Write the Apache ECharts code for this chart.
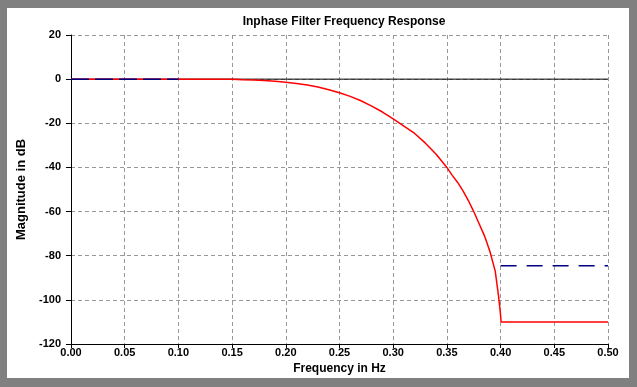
<!DOCTYPE html>
<html>
<head>
<meta charset="utf-8">
<script src="https://cdn.jsdelivr.net/npm/echarts@6/dist/echarts.min.js"></script>
<style>
html,body{margin:0;padding:0;background:#808080;}
#chart{width:637px;height:387px;}
</style>
</head>
<body>
<div id="chart"></div>
<script>
// Frequency response (Hz, dB)
var freq = [0, 0.05, 0.10, 0.15, 0.16, 0.17, 0.18, 0.19, 0.20, 0.21, 0.22, 0.23, 0.24, 0.25, 0.26, 0.27, 0.28, 0.29, 0.30, 0.31, 0.32, 0.33, 0.34, 0.35, 0.355, 0.36, 0.365, 0.37, 0.375, 0.38, 0.385, 0.39, 0.395, 0.398, 0.3995, 0.4005, 0.45, 0.50];
var magnitude = [0, 0, 0, 0, -0.3, -0.4, -0.6, -1.0, -1.4, -2.0, -2.7, -3.6, -4.8, -6.2, -7.8, -9.8, -12.2, -14.9, -18, -21.3, -24.6, -29, -34, -40, -43.6, -46.8, -50.6, -55, -60, -65.5, -71, -78, -87, -98, -104.5, -110, -110, -110];
// Passband spec (navy dashed)
var passFreq = [0, 0.10];
var passMag = [0, 0];
// Stopband spec (navy dashed)
var stopFreq = [0.40, 0.50];
var stopMag = [-84.5, -84.5];
// Zero reference line
var zeroFreq = [0, 0.50];
var zeroMag = [0, 0];
// Axis ticks
var xMin = 0, xMax = 0.5, xStep = 0.05;
var yMin = -120, yMax = 20, yStep = 20;

function pairs(a, b) { return a.map(function (v, i) { return [v, b[i]]; }); }

var font = 'Liberation Sans, Arial, sans-serif';
var chart = echarts.init(document.getElementById('chart'), null, {renderer: 'canvas'});
chart.setOption({
  backgroundColor: '#808080',
  animation: false,
  graphic: [{
    type: 'rect', z: -10, silent: true,
    shape: {x: 7, y: 8, width: 622, height: 370},
    style: {fill: '#ffffff'}
  }],
  title: {
    text: 'Inphase Filter Frequency Response',
    left: 339, top: 11, textAlign: 'center',
    textStyle: {fontFamily: font, fontSize: 12, fontWeight: 'bold', color: '#000'}
  },
  grid: {left: 71, right: 29, top: 35, bottom: 43, containLabel: false},
  xAxis: {
    type: 'value', min: xMin, max: xMax, interval: xStep,
    name: 'Frequency in Hz', nameLocation: 'middle', nameGap: 19,
    nameTextStyle: {fontFamily: font, fontSize: 12, fontWeight: 'bold', color: '#000'},
    axisLine: {onZero: false, lineStyle: {color: '#000', width: 1}},
    axisTick: {show: true, length: 4, lineStyle: {color: '#000'}},
    axisLabel: {fontFamily: font, fontSize: 11, fontWeight: 'bold', color: '#000', margin: 3,
      formatter: function (v) { return v.toFixed(2); }},
    splitLine: {show: true, lineStyle: {color: '#999', type: [4, 3], width: 1}}
  },
  yAxis: {
    type: 'value', min: yMin, max: yMax, interval: yStep,
    name: 'Magnitude in dB', nameLocation: 'middle', nameGap: 43,
    nameTextStyle: {fontFamily: font, fontSize: 13, fontWeight: 'bold', color: '#000'},
    axisLine: {show: true, onZero: false, lineStyle: {color: '#000', width: 1}},
    axisTick: {show: true, length: 5, lineStyle: {color: '#000'}},
    axisLabel: {fontFamily: font, fontSize: 11, fontWeight: 'bold', color: '#000', margin: 10},
    splitLine: {show: true, lineStyle: {color: '#999', type: [4, 3], width: 1}}
  },
  series: [
    {type: 'line', data: pairs(zeroFreq, zeroMag), symbol: 'none', z: 2,
      lineStyle: {color: '#000', width: 1}},
    {type: 'line', data: pairs(freq, magnitude), symbol: 'none', z: 3,
      lineStyle: {color: '#ff0000', width: 1.5}},
    {type: 'line', data: pairs(passFreq, passMag), symbol: 'none', z: 4,
      lineStyle: {color: '#000080', width: 1.5, type: [18, 6]}},
    {type: 'line', data: pairs(stopFreq, stopMag), symbol: 'none', z: 4,
      lineStyle: {color: '#000080', width: 1.5, type: [16, 10]}}
  ]
});
</script>
</body>
</html>
